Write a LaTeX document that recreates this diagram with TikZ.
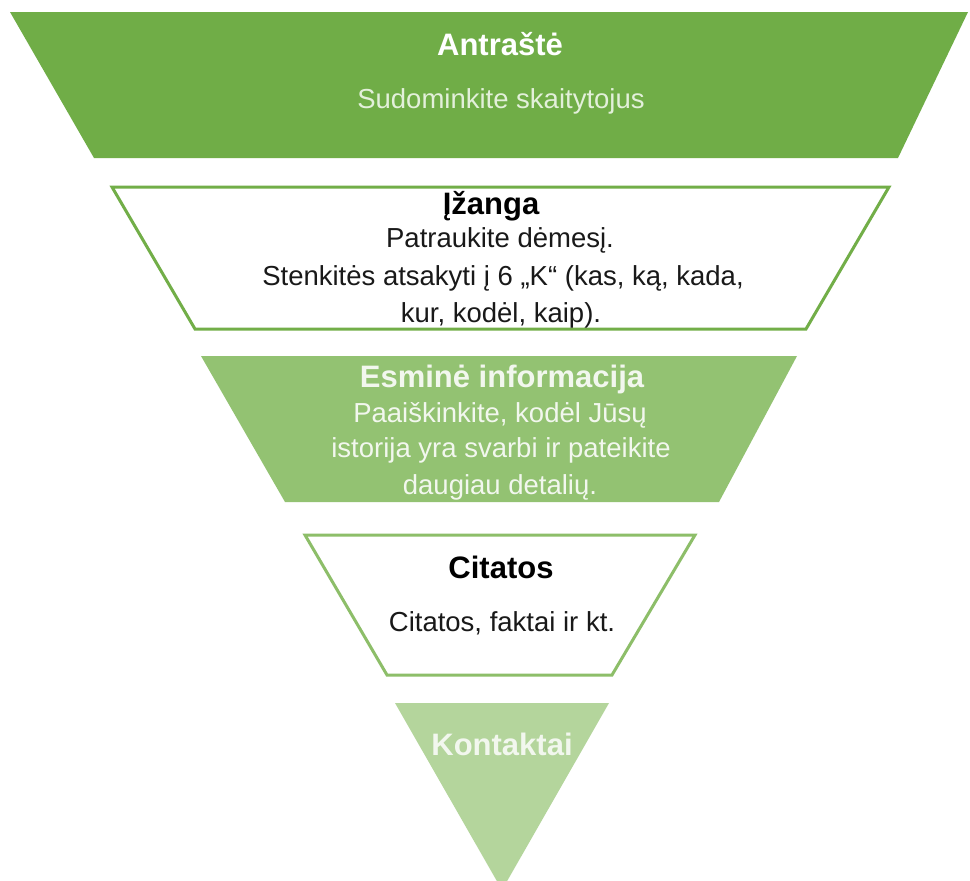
\documentclass[tikz,border=0pt]{standalone}
\usepackage{fontspec}
\setmainfont{Liberation Sans}
\definecolor{gA}{HTML}{70AD47}
\definecolor{gB}{HTML}{93C272}
\definecolor{gC}{HTML}{B4D59C}
\definecolor{gLine}{HTML}{72AE48}
\definecolor{gLine2}{HTML}{8DBE69}
\definecolor{txtA}{HTML}{E3F0DA}
\definecolor{txtB}{HTML}{F2F7EE}
\begin{document}
\begin{tikzpicture}[x=1pt,y=-1pt,
  ttl/.style={font=\fontsize{31}{36}\selectfont\bfseries, anchor=base, inner sep=0pt},
  bdy/.style={font=\fontsize{27.5}{33}\selectfont, anchor=base, inner sep=0pt},
  outlined/.style={draw=#1, line width=3pt, fill=white, line join=miter}]
\clip (0,0) rectangle (970,881);
\fill[white] (0,0) rectangle (970,881);
% level 1
\fill[gA] (10,12) -- (968,12) -- (898,158) -- (94,158) -- cycle;
\node[ttl, text=white] (t1) at (500,55) {Antraštė};
\node[bdy, text=txtA] (t1b) at (501,108) {Sudominkite skaitytojus};
% level 2
\draw[outlined=gLine] (112,187) -- (889,187) -- (806,329) -- (195,329) -- cycle;
\node[ttl, text=black] (t2) at (491,214) {Įžanga};
\node[bdy, text=black!90] (t2b) at (500,247) {Patraukite dėmesį.};
\node[bdy, text=black!90] (t2c) at (503,285) {Stenkitės atsakyti į 6 „K“ (kas, ką, kada,};
\node[bdy, text=black!90] (t2d) at (501,322) {kur, kodėl, kaip).};
% level 3
\fill[gB] (201,356) -- (797,356) -- (719,502) -- (285,502) -- cycle;
\node[ttl, text=txtB] (t3) at (502,387) {Esminė informacija};
\node[bdy, text=txtB] (t3b) at (500,422) {Paaiškinkite, kodėl Jūsų};
\node[bdy, text=txtB] (t3c) at (501,457) {istorija yra svarbi ir pateikite};
\node[bdy, text=txtB] (t3d) at (500,494) {daugiau detalių.};
% level 4
\draw[outlined=gLine2] (305,535) -- (695,535) -- (612,675) -- (387,675) -- cycle;
\node[ttl, text=black] (t4) at (501,578) {Citatos};
\node[bdy, text=black!90] (t4b) at (502,631) {Citatos, faktai ir kt.};
% level 5
\fill[gC] (395,703) -- (609,703) -- (502,890) -- cycle;
\node[ttl, text=txtB] (t5) at (502,755) {Kontaktai};
\end{tikzpicture}
\end{document}
